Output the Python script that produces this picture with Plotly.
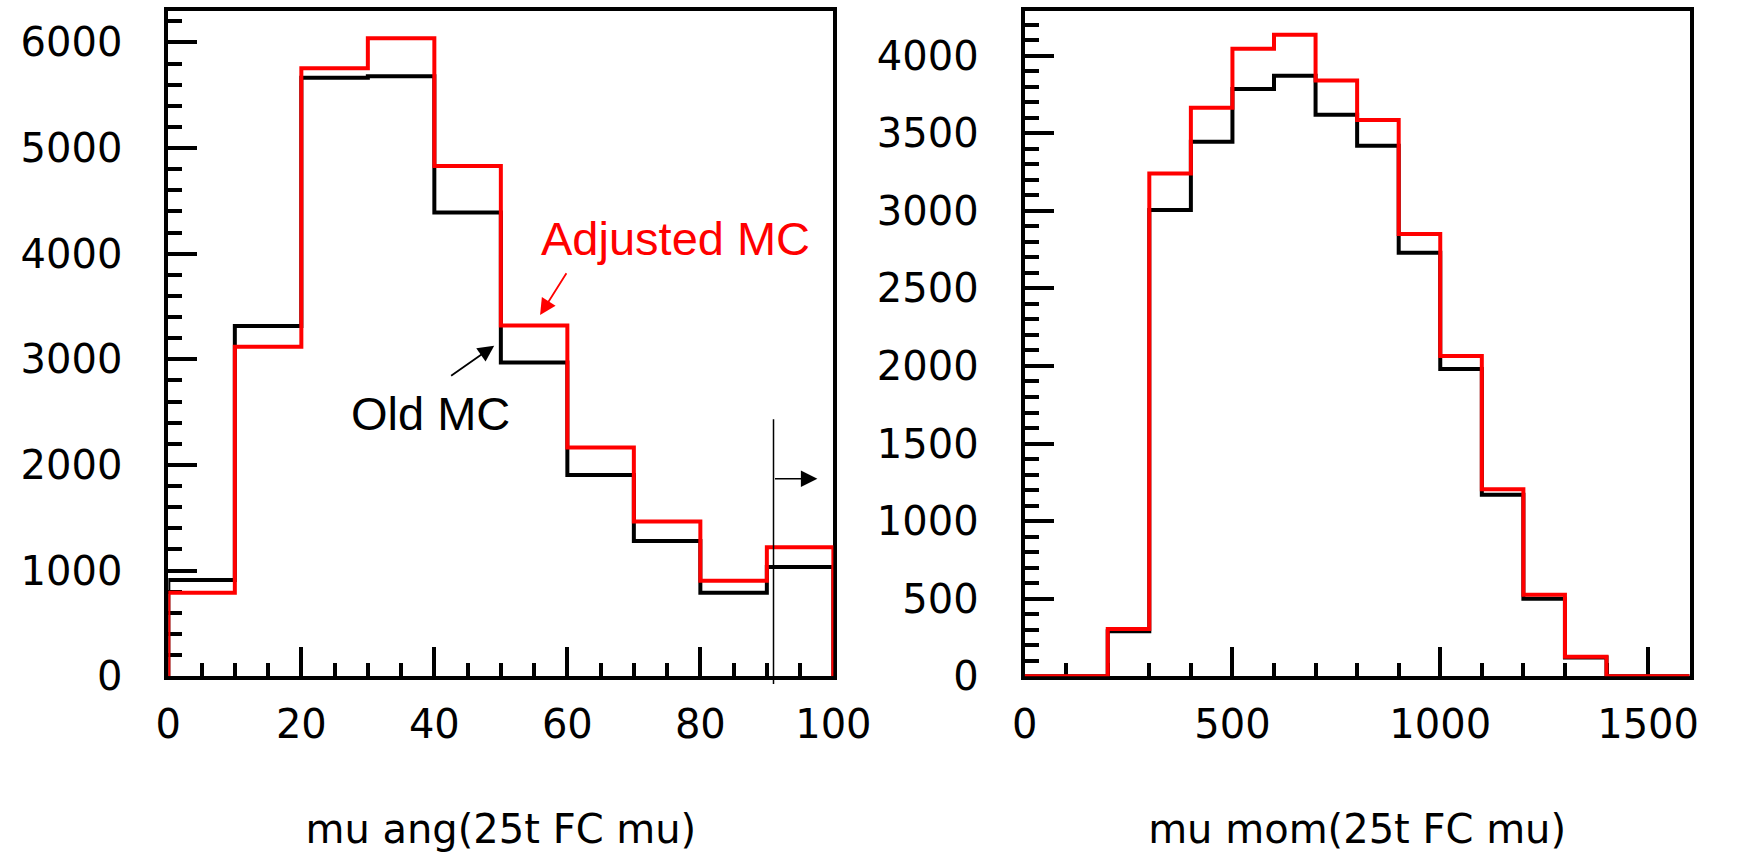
import plotly.graph_objects as go

# ---------------- data ----------------
ang_edges = [0, 10, 20, 30, 40, 50, 60, 70, 80, 90, 100]
ang_old = [910, 3315, 5665, 5680, 4390, 2970, 1905, 1280, 790, 1035]
ang_adj = [790, 3120, 5755, 6040, 4830, 3320, 2165, 1465, 905, 1220]

mom_edges = [0, 100, 200, 300, 400, 500, 600, 700, 800, 900, 1000,
             1100, 1200, 1300, 1400, 1500, 1600]
mom_old = [0, 0, 290, 3005, 3445, 3785, 3870, 3620, 3420, 2730, 1980,
           1170, 500, 120, 0, 0]
mom_adj = [0, 0, 305, 3240, 3665, 4045, 4135, 3840, 3585, 2850, 2065,
           1205, 525, 125, 0, 0]

ang_title = "mu ang(25t FC mu)"
mom_title = "mu mom(25t FC mu)"

W, H = 1749, 852
FONT = "DejaVu Sans"


def step_xy(edges, vals):
    xs = [edges[0]] + list(edges)
    ys = [0] + list(vals) + [0]
    return xs, ys


fig = go.Figure()

for edges, old, adj, xa, ya in [
    (ang_edges, ang_old, ang_adj, "x", "y"),
    (mom_edges, mom_old, mom_adj, "x2", "y2"),
]:
    for vals, col in [(old, "#000000"), (adj, "#ff0000")]:
        xs, ys = step_xy(edges, vals)
        fig.add_trace(go.Scatter(
            x=xs, y=ys, mode="lines", line=dict(color=col, width=4, shape="hv"),
            xaxis=xa, yaxis=ya, showlegend=False, hoverinfo="skip"))

ydom = [(852 - 695) / 852, (852 - 11) / 852]
axis_common = dict(
    showline=True, linecolor="#000000", linewidth=4, mirror=True,
    ticks="inside", tickcolor="#000000", tickwidth=4, ticklen=29,
    showgrid=False, zeroline=False, layer="below traces",
    tickfont=dict(family=FONT, size=40, color="#000000"),
)

fig.update_layout(
    width=W, height=H,
    margin=dict(l=0, r=0, t=0, b=0),
    paper_bgcolor="#ffffff", plot_bgcolor="#ffffff",
    xaxis=dict(domain=[160 / W, 845 / W], range=[0, 100], anchor="y",
               tickvals=[0, 20, 40, 60, 80, 100], ticklabelstandoff=10,
               minor=dict(ticks="inside", ticklen=13, tickwidth=4,
                          tickcolor="#000000", dtick=5, tick0=0),
               title=dict(text=ang_title, standoff=72,
                          font=dict(family=FONT, size=40, color="#000000")),
               **axis_common),
    yaxis=dict(domain=ydom, range=[0, 6300], anchor="x",
               tickvals=[0, 1000, 2000, 3000, 4000, 5000, 6000],
               ticklabelstandoff=34,
               minor=dict(ticks="inside", ticklen=14, tickwidth=4,
                          tickcolor="#000000", dtick=200, tick0=0),
               **axis_common),
    xaxis2=dict(domain=[1042 / W, 1727 / W], range=[0, 1600], anchor="y2",
                tickvals=[0, 500, 1000, 1500], ticklabelstandoff=10,
                minor=dict(ticks="inside", ticklen=13, tickwidth=4,
                           tickcolor="#000000", dtick=100, tick0=0),
                title=dict(text=mom_title, standoff=72,
                           font=dict(family=FONT, size=40, color="#000000")),
                **axis_common),
    yaxis2=dict(domain=ydom, range=[0, 4290], anchor="x2",
                tickvals=[0, 500, 1000, 1500, 2000, 2500, 3000, 3500, 4000],
                ticklabelstandoff=34,
                minor=dict(ticks="inside", ticklen=14, tickwidth=4,
                           tickcolor="#000000", dtick=100, tick0=0),
                **axis_common),
)

# cut line and arrow in the left panel
fig.add_shape(type="line", xref="x", yref="paper", x0=91, x1=91,
              y0=(852 - 703) / 852, y1=(852 - 431) / 852,
              line=dict(color="#000000", width=1.5))

ANN = "Liberation Sans"
fig.add_annotation(x=97.6, y=1870, ax=91, ay=1870, xref="x", yref="y",
                   axref="x", ayref="y", text="", showarrow=True,
                   arrowhead=2, arrowsize=2.2, arrowwidth=1.5,
                   arrowcolor="#000000")
fig.add_annotation(x=76.2, y=4141, xref="x", yref="y", text="Adjusted MC",
                   showarrow=False,
                   font=dict(family=ANN, size=47, color="#ff0000"))
fig.add_annotation(x=55.9, y=3419, ax=60.0, ay=3828, xref="x", yref="y",
                   axref="x", ayref="y", text="", showarrow=True,
                   arrowhead=2, arrowsize=1.8, arrowwidth=1.8,
                   arrowcolor="#ff0000")
fig.add_annotation(x=39.4, y=2485, xref="x", yref="y", text="Old MC",
                   showarrow=False,
                   font=dict(family=ANN, size=47, color="#000000"))
fig.add_annotation(x=49.0, y=3129, ax=42.3, ay=2834, xref="x", yref="y",
                   axref="x", ayref="y", text="", showarrow=True,
                   arrowhead=2, arrowsize=1.8, arrowwidth=1.8,
                   arrowcolor="#000000")

fig.write_html("out.html")
